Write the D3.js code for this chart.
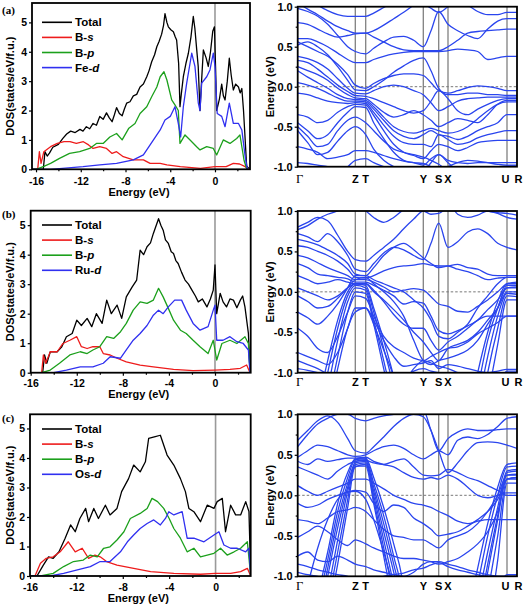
<!DOCTYPE html>
<html><head><meta charset="utf-8">
<script src="https://cdn.jsdelivr.net/npm/d3@7"></script>
<style>body{margin:0;background:#fff}svg{display:block}</style>
</head><body>
<svg id="chart" width="524" height="609"></svg>
<script>
// ---------------- DATA ----------------
const dosYTicks = [0, 1, 2, 3, 4, 5];
const dosXTicks = [-16, -12, -8, -4, 0];
const dosXMinor = [-14, -10, -6, -2, 2];
const eTicks = [-1, -0.5, 0, 0.5, 1];
const eMinor = [-0.75, -0.25, 0.25, 0.75];
const kNames = ["Γ", "Z", "T", "Y", "S", "X", "U", "R"];
const kTicks = [0, 57.6, 68, 125.6, 141, 150.3, 209.3, 219.3];
const kGrid = [0,10,20,30,40,50,57.6,68,76,86,96,106,116,125.6,133.3,141,150.3,160,170,180,190,200,209.3,219.3];
const panelLabels = ["(a)", "(b)", "(c)"];
const legendA = ["Total", "B-s", "B-p", "Fe-d"];
const legendB = ["Total", "B-s", "B-p", "Ru-d"];
const legendC = ["Total", "B-s", "B-p", "Os-d"];

const aTotal = [[-16.4,0],[-15.35,0],[-15.2,0.6],[-15.0,0.45],[-14.8,0.55],[-14.5,0.75],[-14.0,0.85],[-13.6,1.05],[-13.26,1.2],[-12.9,1.3],[-12.5,1.25],[-12.07,1.36],[-11.8,1.3],[-11.5,1.45],[-11.2,1.38],[-10.9,1.56],[-10.6,1.5],[-10.3,1.8],[-10.0,1.7],[-9.7,1.92],[-9.45,1.75],[-9.2,1.62],[-9.0,1.85],[-8.8,2.1],[-8.55,1.9],[-8.3,1.82],[-8.1,2.05],[-7.9,2.25],[-7.6,2.3],[-7.3,2.5],[-7.0,2.55],[-6.7,2.8],[-6.4,2.9],[-6.1,3.15],[-5.9,3.35],[-5.66,3.66],[-5.4,3.9],[-5.2,4.17],[-5.0,4.35],[-4.77,4.6],[-4.6,4.9],[-4.47,5.3],[-4.3,5.0],[-4.17,4.85],[-3.95,4.75],[-3.72,4.68],[-3.55,4.5],[-3.43,4.4],[-3.25,3.6],[-3.13,2.13],[-3.0,2.6],[-2.83,3.15],[-2.6,3.6],[-2.38,3.95],[-2.15,4.5],[-1.94,5.2],[-1.8,4.8],[-1.64,4.1],[-1.5,3.5],[-1.34,2.0],[-1.2,3.0],[-1.04,4.06],[-0.8,3.8],[-0.6,3.5],[-0.4,4.0],[-0.2,4.7],[-0.05,4.85],[0.05,3.5],[0.15,2.0],[0.4,2.4],[0.6,2.9],[0.75,2.5],[0.9,2.36],[1.1,3.0],[1.28,3.78],[1.45,3.2],[1.64,2.7],[1.85,2.9],[2.1,2.8],[2.25,2.6],[2.4,2.75],[2.55,2.0],[2.7,1.0],[2.83,0.1],[3.13,0]];
const aBs = [[-16.4,0],[-15.85,0],[-15.7,0.6],[-15.55,0.2],[-15.3,0.6],[-14.7,0.77],[-14.1,0.88],[-13.5,0.94],[-12.96,0.94],[-12.4,0.88],[-11.77,0.94],[-11.3,0.83],[-10.9,0.71],[-10.3,0.77],[-9.7,0.71],[-9.2,0.54],[-8.8,0.6],[-8.2,0.43],[-7.3,0.32],[-6.4,0.32],[-5.8,0.2],[-4.9,0.2],[-4.3,0.15],[-3.1,0.09],[-1.3,0.03],[0,0.09],[1.0,0.09],[1.64,0.2],[2.2,0.18],[2.7,0.09],[3.0,0],[3.13,0]];
const aBp = [[-16.4,0],[-16,0],[-15.3,0.1],[-14.7,0.2],[-13.9,0.37],[-13.0,0.54],[-12.1,0.6],[-11.2,0.71],[-10.6,0.88],[-10.0,0.88],[-9.4,1.1],[-8.8,1.22],[-8.3,1.0],[-7.7,1.4],[-7.15,1.56],[-6.7,1.9],[-6.1,2.13],[-5.66,2.47],[-5.2,2.8],[-4.9,3.15],[-4.56,3.32],[-4.3,3.04],[-3.87,2.36],[-3.58,2.19],[-3.28,2.0],[-3.13,0.88],[-2.68,1.17],[-2.23,1.0],[-1.64,0.77],[-1.34,0.66],[-0.74,0.77],[-0.15,0.71],[0.15,0.49],[0.74,1.0],[1.34,0.88],[1.94,1.05],[2.23,1.17],[2.6,0.3],[2.85,0]];
const aFed = [[-16.4,0],[-14.7,0],[-11.8,0.09],[-10.3,0.15],[-8.8,0.2],[-7.3,0.32],[-6.4,0.49],[-5.5,1.0],[-4.9,1.34],[-4.47,1.68],[-4.0,1.8],[-3.58,2.13],[-3.28,1.56],[-3.07,1.1],[-2.83,2.13],[-2.53,2.93],[-2.08,3.95],[-1.79,3.5],[-1.49,2.25],[-1.34,2.0],[-1.19,2.93],[-0.74,3.15],[-0.45,3.38],[-0.15,3.95],[0,3.5],[0.2,1.9],[0.6,1.8],[0.9,1.45],[1.28,2.25],[1.64,1.56],[2.1,1.56],[2.4,1.34],[2.7,0.43],[2.9,0],[3.13,0]];

const bTotal = [[-16,0],[-14.96,0],[-14.8,0.6],[-14.6,0.32],[-14.3,0.71],[-13.7,0.71],[-13.3,0.88],[-12.9,1.22],[-12.4,1.33],[-12.0,1.78],[-11.6,1.6],[-11.1,1.84],[-10.7,1.56],[-10.3,2.0],[-9.8,1.67],[-9.4,2.46],[-9.0,2.0],[-8.5,2.29],[-8.1,1.84],[-7.7,2.57],[-7.2,2.9],[-6.8,3.14],[-6.5,4.15],[-6.2,4.0],[-5.9,4.27],[-5.6,4.4],[-5.35,4.72],[-4.9,5.22],[-4.7,5.0],[-4.5,4.83],[-4.3,4.5],[-4.05,4.38],[-3.8,4.1],[-3.6,4.04],[-3.4,3.8],[-3.2,3.7],[-2.9,3.4],[-2.6,3.14],[-2.3,3.0],[-2.0,2.8],[-1.7,2.6],[-1.45,2.4],[-1.1,2.5],[-0.7,2.23],[-0.4,2.5],[-0.15,2.8],[0,3.65],[0.15,2.0],[0.45,2.69],[0.7,2.4],[1.0,2.23],[1.3,2.5],[1.6,2.46],[1.9,2.2],[2.2,2.46],[2.4,2.6],[2.6,2.23],[2.9,1.33],[3.04,0],[3.1,0]];
const bBs = [[-16,0],[-15.05,0],[-14.9,0.6],[-14.7,0.32],[-14.3,0.71],[-13.7,0.71],[-13.2,0.99],[-12.6,1.1],[-12.0,1.22],[-11.6,0.88],[-11.1,0.82],[-10.6,0.88],[-10.0,0.88],[-9.7,0.65],[-9.1,0.6],[-8.5,0.49],[-7.7,0.37],[-6.5,0.26],[-5.35,0.2],[-3.6,0.11],[-1.9,0.07],[0,0.09],[1.3,0.11],[2.2,0.15],[2.75,0.26],[3.04,0],[3.1,0]];
const bBp = [[-16,0],[-15.05,0],[-14.3,0.09],[-13.5,0.32],[-12.6,0.6],[-11.7,0.71],[-11.1,0.65],[-10.6,0.77],[-10.0,0.88],[-9.4,1.22],[-8.8,1.16],[-8.2,1.39],[-7.7,1.67],[-7.1,2.12],[-6.5,2.4],[-5.9,2.35],[-5.35,2.46],[-4.9,2.86],[-4.5,2.57],[-4.05,2.18],[-3.6,1.78],[-3.0,1.44],[-2.5,1.33],[-1.9,1.1],[-1.3,0.88],[-0.6,0.65],[-0.15,1.1],[0.15,0.43],[0.6,0.99],[1.3,1.1],[1.9,0.99],[2.6,1.22],[2.9,0.99],[3.04,0],[3.1,0]];
const bRud = [[-16,0],[-14.0,0],[-12.9,0.09],[-11.7,0.2],[-10.6,0.2],[-9.7,0.32],[-9.1,0.54],[-8.2,0.49],[-7.7,0.77],[-7.1,1.1],[-6.5,1.33],[-5.9,1.6],[-5.35,1.95],[-4.9,2.12],[-4.5,2.0],[-4.05,2.23],[-3.5,2.46],[-2.9,2.46],[-2.5,2.12],[-1.9,1.67],[-1.3,1.44],[-0.6,1.56],[-0.15,2.12],[0,2.29],[0.15,1.1],[0.7,1.1],[1.3,1.22],[1.9,1.05],[2.45,0.99],[2.9,0.77],[3.04,0],[3.1,0]];

const cTotal = [[-16,0],[-15.4,0],[-14.85,0.37],[-14.4,0.65],[-14.0,0.6],[-13.5,0.82],[-12.97,1.28],[-12.5,1.73],[-12.1,1.5],[-11.7,1.95],[-11.2,2.29],[-10.95,1.84],[-10.5,2.29],[-10.1,1.95],[-9.5,2.4],[-9.1,2.07],[-8.5,2.29],[-8.1,2.86],[-7.5,3.3],[-7.06,3.76],[-6.5,3.53],[-6.05,3.87],[-5.77,4.66],[-5.2,4.72],[-4.76,4.77],[-4.18,4.1],[-3.6,3.76],[-3.03,3.3],[-2.6,2.86],[-2.3,2.29],[-1.87,2.18],[-1.3,1.84],[-0.72,2.4],[-0.14,2.29],[0.14,2.52],[0.58,2.63],[0.86,1.5],[1.3,2.4],[1.73,2.07],[2.16,2.07],[2.6,2.52],[2.88,2.18],[3.03,0]];
const cBs = [[-16,0],[-15.57,0],[-15.1,0.43],[-14.6,0.6],[-14.0,0.65],[-13.4,0.82],[-12.7,1.16],[-12.1,0.82],[-11.5,0.94],[-10.95,0.6],[-10.4,0.71],[-9.95,0.65],[-9.4,0.49],[-8.5,0.37],[-7.06,0.26],[-5.6,0.15],[-3.6,0.09],[-1.3,0.06],[0,0.09],[1.3,0.09],[2.16,0.15],[2.74,0.26],[3.03,0]];
const cBp = [[-16,0],[-15.1,0],[-14.0,0.09],[-13.1,0.32],[-12.25,0.49],[-11.4,0.54],[-10.8,0.71],[-10.2,0.65],[-9.65,0.94],[-9.1,0.99],[-8.5,1.22],[-7.9,1.5],[-7.35,1.95],[-6.5,2.12],[-5.9,2.29],[-5.48,2.63],[-5.0,2.52],[-4.47,2.29],[-4.0,1.95],[-3.6,1.61],[-3.03,1.28],[-2.45,0.82],[-1.87,0.94],[-1.3,0.65],[-0.72,0.71],[-0.14,0.77],[0.43,0.94],[1.0,0.71],[1.6,0.82],[2.16,0.94],[2.74,1.16],[3.03,0]];
const cOsd = [[-16,0],[-14.27,0],[-13.1,0.09],[-12.0,0.2],[-10.8,0.32],[-9.95,0.49],[-9.1,0.49],[-8.2,0.82],[-7.6,1.16],[-7.06,1.39],[-6.5,1.61],[-5.9,1.78],[-5.33,1.9],[-4.76,1.73],[-4.32,1.95],[-4.03,2.18],[-3.6,2.07],[-2.88,2.18],[-2.45,1.28],[-1.87,1.28],[-1.0,1.16],[-0.14,1.39],[0.29,1.5],[0.72,1.05],[1.3,0.94],[1.87,0.94],[2.6,0.82],[2.88,0.94],[3.03,0]];

// band energies on kGrid
const bandsA = [
[1.05,0.97,0.9,0.82,0.75,0.7,0.67,0.67,0.7,0.77,0.85,0.93,1.02,1.1,1.1,1.1,1.1,1.1,1.1,1.1,1.1,1.1,1.1,1.1],
[1.2,1.1,1.02,0.95,0.9,0.88,0.88,0.88,0.92,0.99,1.06,1.12,1.15,1.05,0.98,0.93,1.0,1.08,1.02,0.94,0.9,0.9,0.93,0.93],
[0.98,0.94,0.88,0.78,0.64,0.5,0.44,0.41,0.48,0.56,0.62,0.63,0.58,0.5,0.7,0.94,0.78,0.7,0.64,0.6,0.72,0.82,0.85,0.85],
[0.8,0.78,0.72,0.66,0.62,0.64,0.66,0.67,0.62,0.56,0.5,0.46,0.45,0.45,0.45,0.45,0.5,0.58,0.67,0.69,0.7,0.71,0.72,0.72],
[0.6,0.6,0.56,0.5,0.42,0.34,0.3,0.3,0.34,0.38,0.41,0.43,0.44,0.44,0.44,0.44,0.45,0.47,0.46,0.44,0.34,0.36,0.38,0.38],
[0.56,0.5,0.44,0.38,0.28,0.15,0.02,-0.02,0.04,0.1,0.14,0.16,0.16,0.14,0.05,-0.05,-0.08,-0.05,-0.01,0.01,0.0,-0.02,-0.05,-0.05],
[0.52,0.56,0.5,0.4,0.25,0.08,-0.04,-0.05,0.0,0.08,0.18,0.26,0.33,0.36,0.2,-0.02,-0.1,-0.1,-0.08,-0.08,-0.1,-0.1,-0.11,-0.11],
[0.38,0.35,0.3,0.22,0.1,-0.02,-0.08,-0.09,-0.05,0.0,0.02,0.0,-0.05,-0.1,-0.2,-0.3,-0.25,-0.18,-0.15,-0.14,-0.13,-0.13,-0.13,-0.13],
[0.33,0.3,0.22,0.12,0.02,-0.06,-0.11,-0.12,-0.15,-0.2,-0.25,-0.3,-0.33,-0.3,-0.18,-0.05,-0.15,-0.3,-0.35,-0.28,-0.22,-0.17,-0.15,-0.15],
[0.25,0.2,0.15,0.08,-0.02,-0.1,-0.14,-0.15,-0.22,-0.32,-0.38,-0.35,-0.3,-0.35,-0.42,-0.5,-0.45,-0.4,-0.42,-0.45,-0.35,-0.22,-0.17,-0.17],
[0.2,0.12,0.05,-0.02,-0.1,-0.15,-0.16,-0.17,-0.25,-0.38,-0.5,-0.56,-0.58,-0.55,-0.52,-0.55,-0.58,-0.56,-0.5,-0.4,-0.3,-0.22,-0.19,-0.19],
[0.05,0.02,-0.02,-0.08,-0.14,-0.18,-0.18,-0.19,-0.28,-0.42,-0.55,-0.62,-0.65,-0.6,-0.55,-0.6,-0.62,-0.66,-0.62,-0.55,-0.5,-0.45,-0.35,-0.35],
[-0.08,-0.1,-0.14,-0.18,-0.2,-0.21,-0.2,-0.21,-0.32,-0.48,-0.62,-0.7,-0.72,-0.72,-0.75,-0.6,-0.66,-0.72,-0.7,-0.64,-0.6,-0.57,-0.55,-0.55],
[-0.35,-0.38,-0.45,-0.42,-0.32,-0.25,-0.22,-0.23,-0.36,-0.55,-0.72,-0.82,-0.86,-0.9,-0.8,-0.72,-0.75,-0.8,-0.76,-0.7,-0.68,-0.67,-0.67,-0.67],
[-0.45,-0.55,-0.65,-0.6,-0.45,-0.32,-0.25,-0.26,-0.45,-0.65,-0.82,-0.92,-0.95,-0.98,-0.9,-0.85,-0.92,-0.95,-0.96,-0.95,-0.95,-0.95,-0.95,-0.95],
[-0.5,-0.62,-0.75,-0.72,-0.55,-0.42,-0.38,-0.45,-0.55,-0.68,-0.78,-0.82,-0.85,-0.88,-0.92,-0.97,-1.05,-1.1,-1.1,-1.05,-1.02,-1.0,-0.99,-0.99],
[-0.55,-0.7,-0.85,-0.82,-0.68,-0.55,-0.5,-0.6,-0.78,-0.92,-1.0,-1.05,-1.05,-1.05,-0.95,-0.85,-0.95,-1.05,-1.1,-1.1,-1.1,-1.1,-1.1,-1.1],
[-0.75,-0.78,-0.82,-0.9,-0.88,-0.85,-0.8,-0.8,-0.82,-0.86,-0.9,-0.93,-0.95,-0.96,-1.0,-1.05,-1.0,-0.95,-0.92,-0.93,-0.95,-0.97,-0.98,-0.98],
[-0.95,-0.96,-0.98,-1.0,-1.05,-1.0,-0.92,-0.9,-0.95,-1.0,-1.05,-1.1,-1.1,-1.1,-1.1,-1.1,-1.1,-1.1,-1.1,-1.1,-1.1,-1.1,-1.1,-1.1]
];
const bandsB = [
[0.8,0.86,0.92,0.88,0.7,0.5,0.4,0.38,0.45,0.55,0.65,0.78,0.9,1.0,0.96,0.97,1.05,1.1,1.1,1.05,1.0,0.98,0.97,0.95],
[0.77,0.82,0.9,0.96,1.0,1.04,1.05,1.0,0.92,0.86,0.92,1.02,1.1,1.1,1.1,1.1,1.1,0.96,0.92,0.95,1.0,0.97,0.92,0.9],
[0.72,0.68,0.62,0.72,0.62,0.45,0.28,0.25,0.35,0.48,0.55,0.52,0.45,0.4,0.6,0.85,0.55,0.62,0.74,0.78,0.72,0.6,0.55,0.52],
[0.65,0.62,0.58,0.52,0.45,0.35,0.22,0.2,0.3,0.45,0.55,0.6,0.52,0.42,0.35,0.3,0.32,0.34,0.3,0.28,0.22,0.2,0.2,0.2],
[0.57,0.55,0.5,0.45,0.38,0.28,0.18,0.17,0.2,0.26,0.3,0.32,0.33,0.35,0.33,0.32,0.32,0.28,0.25,0.2,0.15,0.17,0.18,0.18],
[0.45,0.42,0.36,0.3,0.25,0.2,0.15,0.15,0.12,0.06,0.0,0.02,0.04,0.02,-0.06,-0.15,-0.18,-0.24,-0.25,-0.18,-0.1,0.0,0.1,0.12],
[0.35,0.3,0.22,0.2,0.18,0.16,0.12,0.12,0.08,0.02,-0.05,-0.15,-0.12,-0.14,-0.3,-0.48,-0.52,-0.48,-0.42,-0.35,-0.22,-0.1,0.05,0.05],
[0.2,0.15,0.1,0.12,0.15,0.12,0.1,0.1,0.02,-0.12,-0.28,-0.4,-0.45,-0.45,-0.6,-0.72,-0.62,-0.55,-0.45,-0.35,-0.3,-0.3,-0.3,-0.3],
[0.05,0.0,-0.05,-0.1,-0.05,0.05,0.1,0.1,0.0,-0.1,-0.22,-0.35,-0.5,-0.62,-0.75,-0.85,-0.7,-0.65,-0.6,-0.5,-0.35,-0.2,0.0,0.0],
[-0.05,-0.12,-0.2,-0.18,-0.08,0.05,0.15,0.18,0.1,0.0,-0.12,-0.3,-0.6,-0.85,-0.9,-0.85,-0.82,-0.78,-0.72,-0.6,-0.4,-0.2,0.08,0.08],
[-0.25,-0.32,-0.4,-0.3,-0.15,0.05,0.2,0.2,0.15,0.1,0.05,0.0,-0.1,-0.2,-0.35,-0.55,-0.58,-0.5,-0.4,-0.2,-0.05,0.1,0.18,0.18],
[-0.45,-0.55,-0.7,-0.75,-0.55,-0.25,-0.05,-0.08,-0.3,-0.55,-0.68,-0.75,-0.82,-0.85,-0.8,-0.75,-0.7,-0.68,-0.62,-0.52,-0.45,-0.38,-0.3,-0.3],
[-0.75,-0.8,-0.85,-0.9,-0.75,-0.45,-0.2,-0.2,-0.35,-0.6,-0.8,-0.92,-0.9,-0.88,-0.85,-0.95,-0.9,-0.92,-0.95,-0.98,-1.0,-0.98,-0.96,-0.96],
[-0.85,-0.9,-0.95,-1.02,-1.1,-1.15,-1.1,-1.1,-1.1,-1.1,-1.1,-1.1,-0.95,-0.85,-0.88,-0.92,-0.95,-1.0,-1.05,-1.1,-1.1,-1.1,-1.1,-1.1],
[-0.95,-0.97,-1.0,-1.05,-1.1,-1.1,-1.1,-1.1,-1.1,-1.1,-1.1,-1.05,-0.98,-0.95,-0.98,-1.0,-1.05,-1.1,-1.1,-1.1,-1.1,-1.1,-0.98,-0.98],
[-2,-2,-1.6,-1.0,-0.45,-0.05,0.08,0.05,-0.25,-0.7,-1.2,-2,-2,-2,-2,-2,-2,-2,-1.8,-1.2,-0.6,-0.2,0.05,0.06],
[-2,-2,-1.8,-1.2,-0.6,-0.12,0.05,0.02,-0.35,-0.85,-1.4,-2,-2,-2,-2,-2,-2,-2,-1.6,-1.0,-0.5,-0.12,0.1,0.1],
[-2,-2,-1.4,-0.85,-0.35,0.0,0.1,0.08,-0.2,-0.6,-1.05,-1.6,-2,-2,-2,-2,-2,-2,-2,-1.4,-0.8,-0.3,-0.02,-0.03],
[-2,-2.2,-2,-1.4,-0.8,-0.25,0.0,-0.02,-0.4,-0.95,-1.5,-2,-2,-2,-2,-2,-2,-2,-2,-1.7,-1.0,-0.45,-0.05,-0.06],
[-2,-2,-1.9,-1.5,-0.95,-0.45,-0.25,-0.2,-0.4,-0.72,-1.05,-1.5,-2,-2,-2,-2,-2,-2,-2,-2,-1.3,-0.65,-0.1,-0.1]
];
const bandsC = [
[0.68,0.8,0.92,0.98,0.9,0.7,0.55,0.52,0.6,0.72,0.85,0.95,1.0,0.97,0.8,0.55,0.28,0.4,0.55,0.65,0.66,0.65,0.62,0.58],
[0.6,0.75,0.88,0.95,1.0,1.0,0.95,0.92,0.95,0.98,1.0,1.02,1.05,1.05,0.8,0.55,0.7,0.78,0.82,0.8,0.8,0.81,0.82,0.82],
[0.47,0.55,0.62,0.6,0.55,0.5,0.48,0.5,0.55,0.6,0.62,0.58,0.5,0.45,0.5,0.55,0.5,0.68,0.72,0.7,0.75,0.85,0.95,0.97],
[0.42,0.38,0.45,0.42,0.44,0.46,0.46,0.47,0.42,0.38,0.35,0.28,0.22,0.2,0.22,0.2,0.25,0.2,0.1,0.0,-0.03,0.0,0.03,0.03],
[0.35,0.3,0.25,0.2,0.3,0.38,0.42,0.43,0.4,0.38,0.42,0.45,0.35,0.25,0.24,0.25,0.32,0.28,0.22,0.18,0.12,0.06,0.0,0.0],
[0.12,0.05,0.0,0.05,0.1,0.15,0.2,0.2,0.15,0.08,0.0,-0.05,-0.1,-0.12,-0.15,-0.2,-0.25,-0.32,-0.35,-0.32,-0.3,-0.3,-0.3,-0.3],
[-0.1,-0.15,-0.12,-0.05,0.0,0.04,0.06,0.04,-0.1,-0.2,-0.12,-0.15,-0.28,-0.35,-0.42,-0.5,-0.48,-0.45,-0.38,-0.3,-0.2,-0.05,0.2,0.22],
[-0.3,-0.32,-0.35,-0.28,-0.2,-0.18,-0.15,-0.2,-0.3,-0.42,-0.5,-0.52,-0.55,-0.55,-0.6,-0.65,-0.55,-0.5,-0.45,-0.35,-0.2,0.0,0.25,0.25],
[-0.52,-0.45,-0.38,-0.45,-0.55,-0.62,-0.55,-0.6,-0.65,-0.7,-0.75,-0.78,-0.78,-0.8,-0.82,-0.85,-0.82,-0.78,-0.7,-0.6,-0.45,-0.2,0.2,0.2],
[-0.75,-0.7,-0.8,-0.82,-0.75,-0.8,-0.85,-0.88,-0.92,-0.95,-0.98,-1.0,-0.95,-0.85,-0.82,-0.82,-0.85,-0.88,-0.92,-0.95,-0.98,-1.0,-1.0,-1.0],
[-0.85,-0.88,-0.92,-0.95,-0.98,-1.0,-1.05,-1.05,-1.05,-1.0,-0.98,-0.96,-0.92,-0.9,-0.86,-0.83,-0.88,-0.92,-0.95,-0.98,-1.0,-1.0,-1.0,-1.0],
[-0.95,-0.98,-1.0,-1.05,-1.1,-1.1,-1.1,-1.1,-1.1,-1.1,-1.1,-1.1,-1.1,-1.1,-1.1,-1.05,-1.1,-1.1,-1.1,-1.1,-1.1,-1.1,-0.98,-0.98],
[-2.5,-2.2,-1.6,-1.0,-0.4,0.1,0.35,0.38,0.05,-0.45,-0.95,-1.5,-2.5,-2.5,-2.5,-2.5,-2.5,-2.5,-1.9,-1.3,-0.7,-0.15,0.3,0.32],
[-2.5,-2.4,-1.8,-1.2,-0.55,0.05,0.38,0.4,0.0,-0.55,-1.1,-1.7,-2.5,-2.5,-2.5,-2.5,-2.5,-2.5,-1.7,-1.1,-0.5,0.0,0.35,0.36],
[-2.5,-2.1,-1.5,-0.9,-0.3,0.15,0.4,0.42,0.1,-0.35,-0.85,-1.4,-2.5,-2.5,-2.5,-2.5,-2.5,-2.5,-2.1,-1.5,-0.85,-0.25,0.25,0.26],
[-2.5,-2.5,-2.0,-1.35,-0.7,-0.05,0.42,0.44,-0.05,-0.65,-1.25,-1.9,-2.5,-2.5,-2.5,-2.5,-2.5,-2.5,-2.2,-1.6,-0.95,-0.3,0.28,0.3],
[-2.5,-2.0,-1.35,-0.8,-0.2,0.22,0.44,0.45,0.15,-0.25,-0.75,-1.3,-2.5,-2.5,-2.5,-2.5,-2.5,-2.5,-1.5,-0.9,-0.35,0.1,0.38,0.4],
[-2.5,-2.6,-2.2,-1.5,-0.85,-0.15,0.36,0.36,-0.1,-0.75,-1.4,-2.0,-2.5,-2.5,-2.5,-2.5,-2.5,-2.5,-2.5,-1.9,-1.2,-0.5,0.2,0.22],
[-2.5,-1.9,-1.25,-0.7,-0.1,0.28,0.45,0.46,0.22,-0.15,-0.6,-1.15,-2.5,-2.5,-2.5,-2.5,-2.5,-2.5,-2.5,-2.5,-1.6,-0.8,0.15,0.15],
[-1.5,-1.1,-0.65,-0.3,-0.05,0.04,0.05,-0.05,-0.3,-0.7,-1.15,-1.7,-2.5,-2.5,-2.5,-2.5,-2.5,-2.5,-2.5,-2.5,-2.5,-2.5,-2.5,-2.5]
];

// ---------------- DRAW ----------------
const svg = d3.select("#chart");
const FONT = "'Liberation Sans', Arial, Helvetica, sans-serif";
const seriesColors = ["#000000", "#ee1c1c", "#1ca01c", "#3030f0"];
const bandColor = "#2a45ee";

const dosPanels = [
  {series:[aTotal,aBs,aBp,aFed], legend:legendA, x0:32, x1:250, xd:[-16.36,3.13], yt:3, yb:169.3, ymax:5.66, legY:22.3, xlab:185, elab:196},
  {series:[bTotal,bBs,bBp,bRud], legend:legendB, x0:30.7, x1:250.7, xd:[-16,3.1], yt:210.7, yb:372.7, ymax:5.49, legY:225, xlab:387.5, elab:398},
  {series:[cTotal,cBs,cBp,cOsd], legend:legendC, x0:30, x1:250.7, xd:[-16,3.03], yt:414.3, yb:576, ymax:5.48, legY:429, xlab:591, elab:602}
];
const bandPanels = [
  {bands:bandsA, yt:6.7, yb:166.7, klab:182.5},
  {bands:bandsB, yt:211, yb:372.7, klab:386},
  {bands:bandsC, yt:414.3, yb:576.3, klab:590}
];
const panelLabelY = [14, 218, 422];

dosPanels.forEach((p, i) => {
  const g = svg.append("g");
  const x = d3.scaleLinear().domain(p.xd).range([p.x0, p.x1]);
  const y = d3.scaleLinear().domain([0, p.ymax]).range([p.yb, p.yt]);
  const cid = "dclip" + i;
  svg.append("clipPath").attr("id", cid).append("rect")
    .attr("x", p.x0).attr("y", p.yt).attr("width", p.x1 - p.x0).attr("height", p.yb - p.yt);
  const pg = g.append("g").attr("clip-path", `url(#${cid})`);
  pg.append("line").attr("x1", x(0)).attr("x2", x(0)).attr("y1", p.yt).attr("y2", p.yb)
    .attr("stroke", "#9a9a9a").attr("stroke-width", 1.6);
  const line = d3.line().x(d => x(d[0])).y(d => y(d[1]));
  p.series.forEach((s, j) => {
    pg.append("path").attr("d", line(s)).attr("fill", "none")
      .attr("stroke", seriesColors[j]).attr("stroke-width", 1.3).attr("stroke-linejoin", "round");
  });
  const ya = d3.axisLeft(y).tickValues(dosYTicks).tickSize(3).tickPadding(2).tickFormat(d => String(d));
  const yg = g.append("g").attr("transform", `translate(${p.x0},0)`).call(ya);
  const xa = d3.axisBottom(x).tickValues(dosXTicks).tickSize(3).tickPadding(2).tickFormat(d => String(d));
  const xg = g.append("g").attr("transform", `translate(0,${p.yb})`).call(xa);
  const xm = d3.axisBottom(x).tickValues(dosXMinor).tickSize(2).tickFormat("");
  const xmg = g.append("g").attr("transform", `translate(0,${p.yb})`).call(xm);
  [yg, xg, xmg].forEach(a => {
    a.select(".domain").remove();
    a.selectAll("line").attr("stroke", "#000").attr("stroke-width", 1.2);
    a.selectAll("text").attr("font-family", FONT).attr("font-weight", "bold").attr("font-size", 10.5).attr("fill", "#000");
  });
  xg.selectAll("text").attr("dy", null).attr("y", p.xlab - p.yb);
  g.append("rect").attr("x", p.x0).attr("y", p.yt).attr("width", p.x1 - p.x0).attr("height", p.yb - p.yt)
    .attr("fill", "none").attr("stroke", "#000").attr("stroke-width", 1.8);
  g.append("text").attr("x", (p.x0 + p.x1) / 2 - 2).attr("y", p.elab).attr("text-anchor", "middle")
    .attr("font-family", FONT).attr("font-weight", "bold").attr("font-size", 11).text("Energy (eV)");
  g.append("text").attr("transform", `translate(14,${(p.yt + p.yb) / 2}) rotate(-90)`).attr("text-anchor", "middle")
    .attr("font-family", FONT).attr("font-weight", "bold").attr("font-size", 11).text("DOS(states/eV/f.u.)");
  p.legend.forEach((name, j) => {
    const ly = p.legY + j * 15.1;
    g.append("line").attr("x1", 42).attr("x2", 72).attr("y1", ly).attr("y2", ly)
      .attr("stroke", seriesColors[j]).attr("stroke-width", 1.6);
    const t = g.append("text").attr("x", 75).attr("y", ly + 4).attr("font-family", FONT)
      .attr("font-weight", "bold").attr("font-size", 11.5);
    const k = name.indexOf("-");
    if (k < 0) t.text(name);
    else {
      t.append("tspan").text(name.slice(0, k + 1));
      t.append("tspan").attr("font-style", "italic").text(name.slice(k + 1));
    }
  });
  svg.append("text").attr("x", 2).attr("y", panelLabelY[i]).attr("font-family", "'Liberation Serif', 'Times New Roman', serif")
    .attr("font-weight", "bold").attr("font-size", 11).text(panelLabels[i]);
});

bandPanels.forEach((p, i) => {
  const x0 = 297.7, x1 = 517;
  const g = svg.append("g");
  const x = d3.scaleLinear().domain([0, 219.3]).range([x0, x1]);
  const y = d3.scaleLinear().domain([-1, 1]).range([p.yb, p.yt]);
  const cid = "bclip" + i;
  svg.append("clipPath").attr("id", cid).append("rect")
    .attr("x", x0).attr("y", p.yt).attr("width", x1 - x0).attr("height", p.yb - p.yt);
  const pg = g.append("g").attr("clip-path", `url(#${cid})`);
  kTicks.slice(1, -1).forEach(k => {
    pg.append("line").attr("x1", x(k)).attr("x2", x(k)).attr("y1", p.yt).attr("y2", p.yb)
      .attr("stroke", "#808080").attr("stroke-width", 1.3);
  });
  pg.append("line").attr("x1", x0).attr("x2", x1).attr("y1", y(0)).attr("y2", y(0))
    .attr("stroke", "#777").attr("stroke-width", 1).attr("stroke-dasharray", "2.5,2");
  const line = d3.line().x(d => x(d[0])).y(d => y(d[1])).curve(d3.curveMonotoneX);
  p.bands.forEach(b => {
    pg.append("path").attr("d", line(kGrid.map((k, j) => [k, b[j]]))).attr("fill", "none")
      .attr("stroke", bandColor).attr("stroke-width", 1.3);
  });
  const ya = d3.axisLeft(y).tickValues(eTicks).tickSize(3).tickPadding(2).tickFormat(d => d.toFixed(1));
  const yg = g.append("g").attr("transform", `translate(${x0},0)`).call(ya);
  const ym = d3.axisLeft(y).tickValues(eMinor).tickSize(2).tickFormat("");
  const ymg = g.append("g").attr("transform", `translate(${x0},0)`).call(ym);
  [yg, ymg].forEach(a => {
    a.select(".domain").remove();
    a.selectAll("line").attr("stroke", "#000").attr("stroke-width", 1.2);
    a.selectAll("text").attr("font-family", FONT).attr("font-weight", "bold").attr("font-size", 11).attr("fill", "#000");
  });
  g.append("rect").attr("x", x0).attr("y", p.yt).attr("width", x1 - x0).attr("height", p.yb - p.yt)
    .attr("fill", "none").attr("stroke", "#000").attr("stroke-width", 1.8);
  g.append("text").attr("transform", `translate(274,${(p.yt + p.yb) / 2}) rotate(-90)`).attr("text-anchor", "middle")
    .attr("font-family", FONT).attr("font-weight", "bold").attr("font-size", 11).text("Energy (eV)");
  kNames.forEach((n, j) => {
    let xx = x(kTicks[j]);
    if (j === 0) xx += 2;
    if (j === kNames.length - 1) xx += 1.5;
    if (n === "U") xx -= 1.5;
    g.append("text").attr("x", xx).attr("y", p.klab).attr("text-anchor", "middle")
      .attr("font-family", n === "Γ" ? "'Liberation Serif', 'Times New Roman', serif" : FONT)
      .attr("font-weight", n === "Γ" ? "normal" : "bold").attr("font-size", n === "Γ" ? 12.5 : 11).text(n);
  });
});
</script>
</body></html>
